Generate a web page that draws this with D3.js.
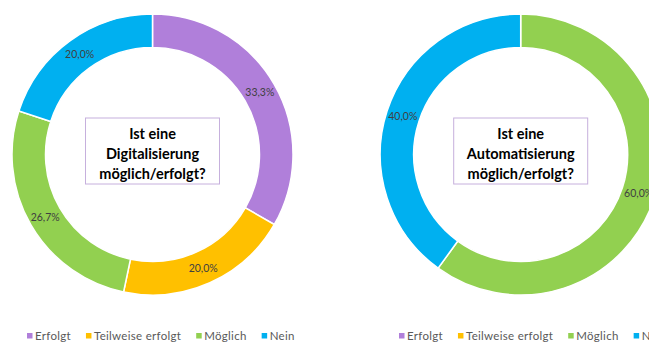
<!DOCTYPE html>
<html>
<head>
<meta charset="utf-8">
<script src="https://cdn.jsdelivr.net/npm/d3@7/dist/d3.min.js"></script>
<style>
  html, body { margin: 0; padding: 0; background: #ffffff; overflow: hidden; }
  svg { display: block; font-family: Lato, "Open Sans", sans-serif; }
</style>
</head>
<body>
<svg id="chart" width="649" height="342"></svg>
<script>
// Answer categories and their colours
const categories = ["Erfolgt", "Teilweise erfolgt", "Möglich", "Nein"];
const colors = ["#b07fda", "#ffc000", "#92d050", "#00b0f0"];

// Share of answers (%) per question
const digitalValues = [33.3, 20.0, 26.7, 20.0];
const automationValues = [0, 0, 60.0, 40.0];

// Centre captions
const digitalTitle = ["Ist eine", "Digitalisierung", "möglich/erfolgt?"];
const automationTitle = ["Ist eine", "Automatisierung", "möglich/erfolgt?"];

const svg = d3.select("#chart");
const color = d3.scaleOrdinal().domain(categories).range(colors);
const fmt = v => d3.format(".1f")(v).replace(".", ",") + "%";

const outerR = 140.5, innerR = 107;
const pie = d3.pie().sort(null).value(d => d.value);
const arc = d3.arc().innerRadius(innerR).outerRadius(outerR);
const labelArc = d3.arc().innerRadius(innerR + 17).outerRadius(innerR + 17);

function donut(cx, cy, values, title, legendX) {
  const data = categories.map((c, i) => ({ cat: c, value: values[i] }));
  const g = svg.append("g").attr("transform", `translate(${cx},${cy})`);
  const arcs = pie(data).filter(d => d.data.value > 0);

  g.selectAll("path.slice").data(arcs).join("path")
    .attr("class", "slice")
    .attr("d", arc)
    .attr("fill", d => color(d.data.cat))
    .attr("stroke", "#ffffff")
    .attr("stroke-width", 1.5);

  g.selectAll("text.val").data(arcs).join("text")
    .attr("class", "val")
    .attr("transform", d => `translate(${labelArc.centroid(d)})`)
    .attr("text-anchor", "middle")
    .attr("dominant-baseline", "central")
    .attr("font-size", 10.5)
    .attr("fill", "#404040")
    .text(d => fmt(d.data.value));

  // caption box
  g.append("rect")
    .attr("x", -67).attr("y", -36.5)
    .attr("width", 134).attr("height", 66)
    .attr("fill", "#ffffff")
    .attr("stroke", "#c6b0dd")
    .attr("stroke-width", 1);

  g.selectAll("text.title").data(title).join("text")
    .attr("class", "title")
    .attr("x", 0)
    .attr("y", (d, i) => -21.5 + i * 20)
    .attr("text-anchor", "middle")
    .attr("dominant-baseline", "central")
    .attr("font-size", 14.5)
    .attr("font-weight", "bold")
    .attr("fill", "#000000")
    .text(d => d);

  // legend
  const lg = svg.append("g").attr("transform", `translate(${legendX},335.5)`);
  let x = 0;
  categories.forEach((c, i) => {
    const item = lg.append("g").attr("transform", `translate(${x},0)`);
    item.append("rect").attr("x", 0).attr("y", -2.5)
      .attr("width", 5.5).attr("height", 5.5).attr("fill", color(c));
    const t = item.append("text").attr("x", 8).attr("y", 0)
      .attr("dominant-baseline", "central")
      .attr("font-size", 11.5).attr("letter-spacing", 0.3)
      .attr("fill", "#595959").text(c);
    x += 8 + t.node().getComputedTextLength() + 15;
  });
}

donut(152.5, 154.5, digitalValues, digitalTitle, 27);
donut(520.7, 154.5, automationValues, automationTitle, 399);
</script>
</body>
</html>
